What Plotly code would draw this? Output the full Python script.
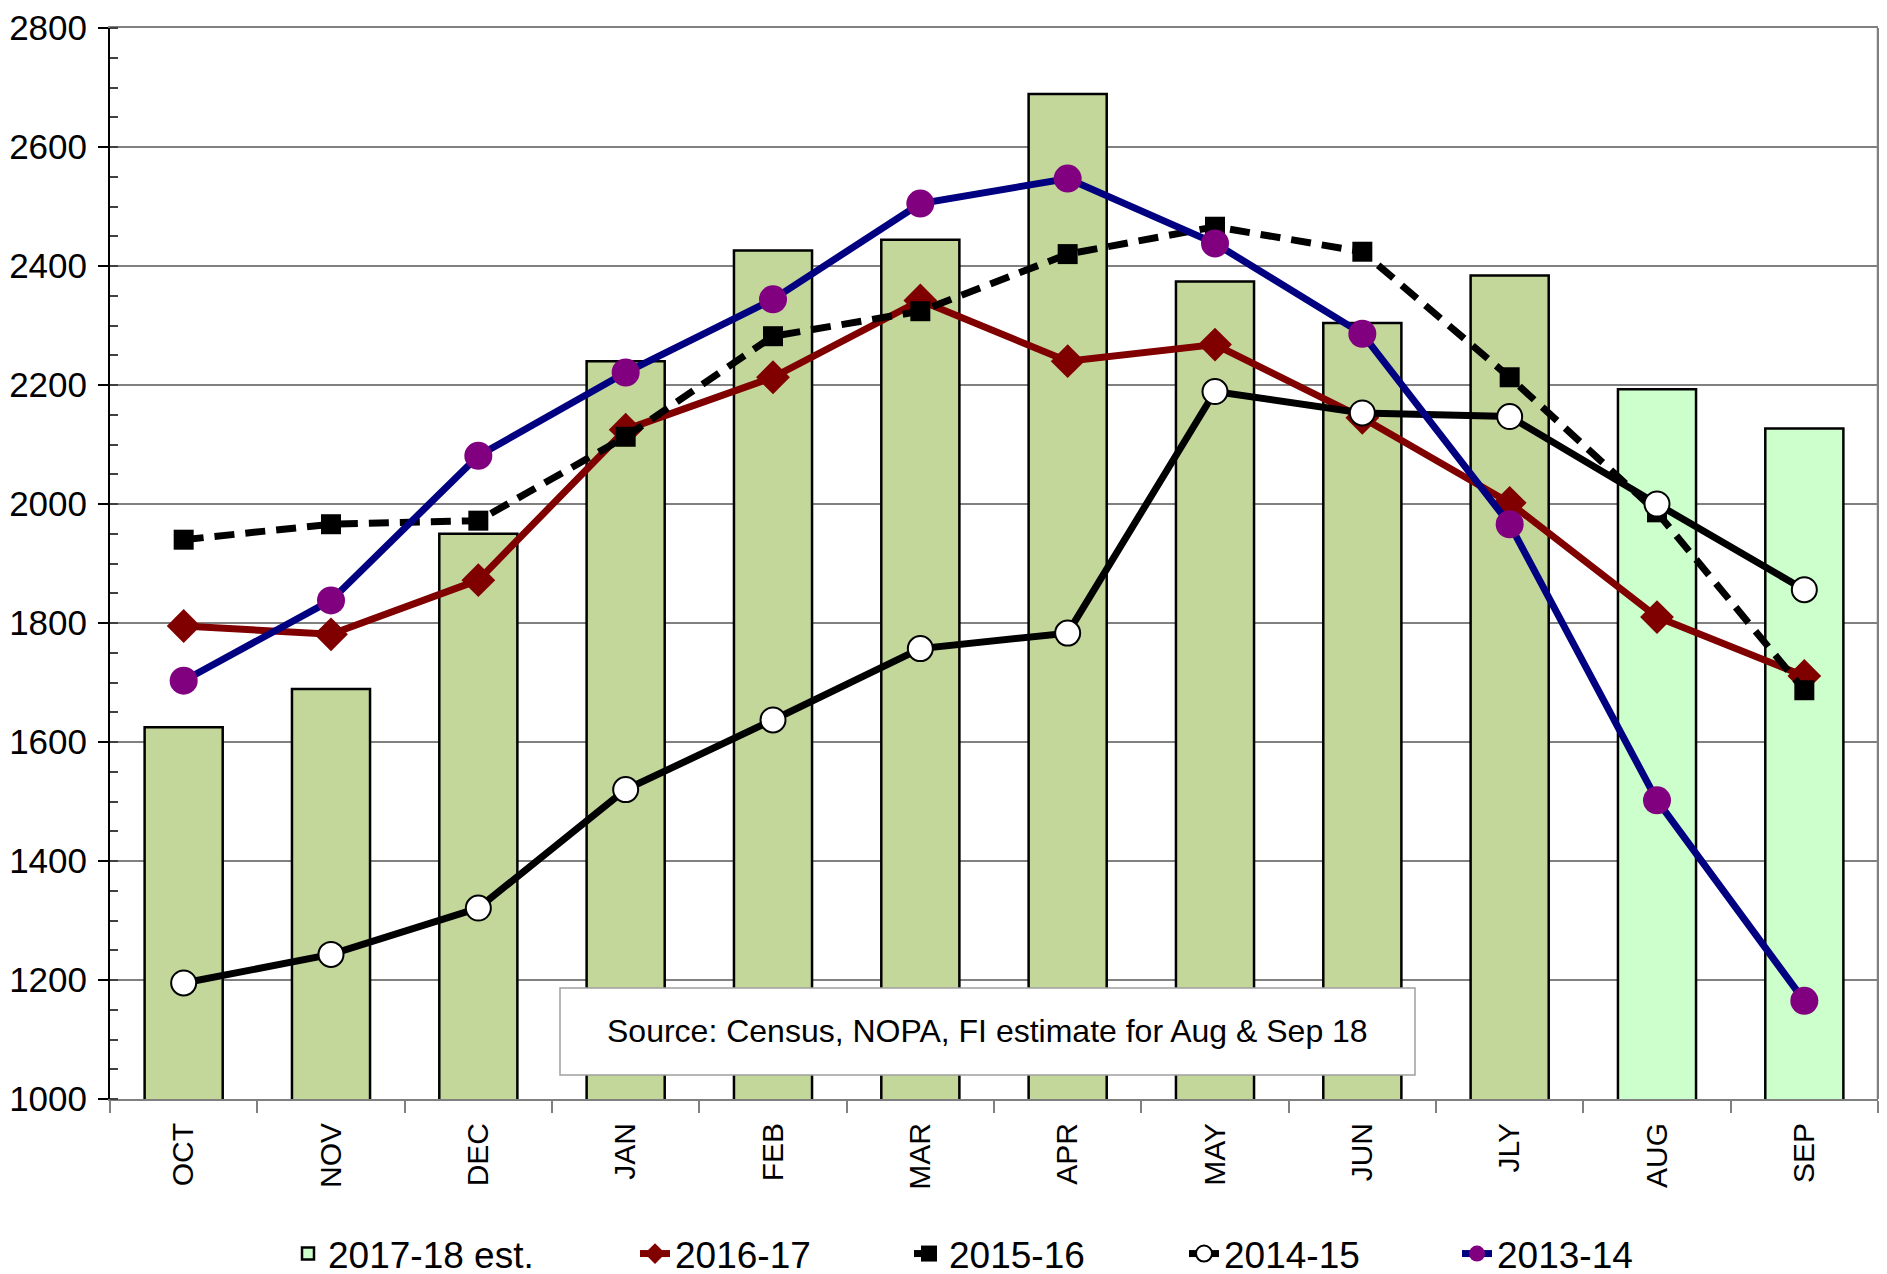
import plotly.graph_objects as go

months = ["OCT", "NOV", "DEC", "JAN", "FEB", "MAR", "APR", "MAY", "JUN", "JLY", "AUG", "SEP"]
y_ticks = [1000, 1200, 1400, 1600, 1800, 2000, 2200, 2400, 2600, 2800]

s2017_18 = [1625, 1689, 1950, 2240, 2426, 2444, 2689, 2374, 2304, 2384, 2193, 2127]
n_actual_2017_18 = 10  # AUG & SEP are estimates
s2016_17 = [1795, 1781, 1872, 2125, 2213, 2342, 2240, 2268, 2145, 2002, 1810, 1711]
s2015_16 = [1940, 1966, 1972, 2113, 2282, 2324, 2420, 2466, 2424, 2213, 1986, 1687]
s2014_15 = [1195, 1243, 1321, 1520, 1637, 1757, 1783, 2189, 2153, 2147, 2000, 1856]
s2013_14 = [1703, 1838, 2081, 2221, 2344, 2505, 2547, 2438, 2286, 1966, 1502, 1165]

source_text = "Source: Census, NOPA, FI estimate for Aug & Sep 18"

FONT = "Liberation Sans, Arial, sans-serif"
W, H = 1887, 1274
OFF = 8  # page body margin
# plot area in page pixels
PL, PR, PT, PB = 110, 1878, 28, 1099

fig = go.Figure()

actual = [v if i < n_actual_2017_18 else None for i, v in enumerate(s2017_18)]
est = [v if i >= n_actual_2017_18 else None for i, v in enumerate(s2017_18)]

fig.add_trace(go.Bar(x=months, y=actual, name="2017-18", showlegend=False,
                     marker=dict(color="#C4D79B", line=dict(color="black", width=2.5)),
                     width=0.53))
fig.add_trace(go.Bar(x=months, y=est, name="2017-18 est.", legend="legend",
                     marker=dict(color="#CCFFCC", line=dict(color="black", width=2.5)),
                     width=0.53))

fig.add_trace(go.Scatter(x=months, y=s2016_17, name="2016-17", mode="lines+markers",
                         legend="legend2",
                         line=dict(color="#800000", width=7),
                         marker=dict(symbol="diamond", size=26, color="#800000")))
fig.add_trace(go.Scatter(x=months, y=s2015_16, name="2015-16", mode="lines+markers",
                         legend="legend3",
                         line=dict(color="black", width=7, dash="20px,11px"),
                         marker=dict(symbol="square", size=20, color="black")))
fig.add_trace(go.Scatter(x=months, y=s2014_15, name="2014-15", mode="lines+markers",
                         legend="legend4",
                         line=dict(color="black", width=7),
                         marker=dict(symbol="circle", size=25, color="white",
                                     line=dict(color="black", width=2))))
fig.add_trace(go.Scatter(x=months, y=s2013_14, name="2013-14", mode="lines+markers",
                         legend="legend5",
                         line=dict(color="#000080", width=7),
                         marker=dict(symbol="circle", size=28, color="#800080")))

pw, ph = PR - PL, PB - PT
fig.add_shape(type="rect", xref="paper", yref="paper",
              x0=(560 - PL) / pw, x1=(1415 - PL) / pw,
              y0=(PB - 1075) / ph, y1=(PB - 988) / ph,
              fillcolor="white", line=dict(color="#A0A0A0", width=1.5), layer="above")
fig.add_annotation(xref="paper", yref="paper",
                   x=((560 + 1415) / 2 - PL) / pw, y=(PB - 1031) / ph,
                   xanchor="center", yanchor="middle",
                   text=source_text, showarrow=False,
                   font=dict(family=FONT, size=32, color="black"))
fig.add_shape(type="line", xref="paper", yref="paper", x0=1, x1=1, y0=0, y1=1,
              line=dict(color="#808080", width=2.5))

legend_y = 1 - (1254 - OFF) / H
legend_text_x = [328, 675, 949, 1224, 1497]


def leg(px):
    return dict(orientation="h", x=(px - 40 - OFF) / W, xanchor="left", xref="container",
                y=legend_y, yanchor="middle", yref="container",
                font=dict(family=FONT, size=37), bgcolor="rgba(0,0,0,0)",
                borderwidth=0)


fig.update_layout(
    template="none",
    width=W, height=H,
    margin=dict(l=PL - OFF, r=W + OFF - PR, t=PT - OFF, b=H + OFF - PB, autoexpand=False),
    plot_bgcolor="white", paper_bgcolor="white",
    barmode="overlay",
    font=dict(family=FONT, color="black"),
    legend=leg(legend_text_x[0]),
    legend2=leg(legend_text_x[1]),
    legend3=leg(legend_text_x[2]),
    legend4=leg(legend_text_x[3]),
    legend5=leg(legend_text_x[4]),
    showlegend=True,
)
fig.update_xaxes(
    type="category", range=[-0.5, 11.5], showline=True, linecolor="#808080", linewidth=2, mirror=True,
    ticks="outside", tickson="boundaries", ticklen=12, tickcolor="#808080", tickwidth=2,
    tickangle=-90, tickfont=dict(family=FONT, size=30), showgrid=False, automargin=False,
    ticklabelstandoff=10,
)
fig.update_yaxes(
    range=[1000, 2800], tickvals=y_ticks, showline=True, linecolor="black", linewidth=2,
    ticks="outside", ticklen=10, tickcolor="black", tickwidth=1.5,
    tickfont=dict(family=FONT, size=35), showgrid=True, gridcolor="#808080", gridwidth=1.5,
    minor=dict(dtick=50, ticks="inside", ticklen=8, tickcolor="#404040", tickwidth=1.5, showgrid=False),
    zeroline=False, automargin=False, ticklabelstandoff=4, ticklabeloverflow="allow",
)

fig.write_html("out.html")
